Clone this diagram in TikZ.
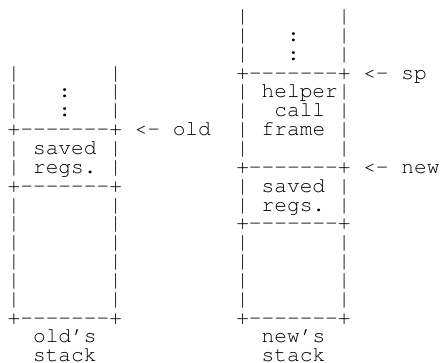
\documentclass[tikz,border=0pt]{standalone}
\usepackage{fontspec}
\setmonofont{TeX Gyre Cursor}
\newcommand{\asciifont}{\ttfamily\fontsize{21.17bp}{18.85bp}\selectfont\frenchspacing}
\tikzset{asciirow/.style={anchor=base west, inner sep=0pt, outer sep=0pt, font=\asciifont}}
\begin{document}
\begin{tikzpicture}[x=1bp,y=-1bp]
\useasboundingbox (0,0) rectangle (440,362);
\def\xo{7.65}
\def\pitch{18.85}
\def\yo{22.5}
\node[asciirow] (r0)  at (\xo,\yo+0*\pitch)  {~~~~~~~~~~~~~~~~~~|~~~~~~~|};
\node[asciirow] (r1)  at (\xo,\yo+1*\pitch)  {~~~~~~~~~~~~~~~~~~|~~~:~~~|};
\node[asciirow] (r2)  at (\xo,\yo+2*\pitch)  {~~~~~~~~~~~~~~~~~~|~~~:~~~|};
\node[asciirow] (r3)  at (\xo,\yo+3*\pitch)  {|~~~~~~~|~~~~~~~~~+-------+~<-~sp};
\node[asciirow] (r4)  at (\xo,\yo+4*\pitch)  {|~~~:~~~|~~~~~~~~~|~helper|};
\node[asciirow] (r5)  at (\xo,\yo+5*\pitch)  {|~~~:~~~|~~~~~~~~~|~~call~|};
\node[asciirow] (r6)  at (\xo,\yo+6*\pitch)  {+-------+~<-~old~~|~frame~|};
\node[asciirow] (r7)  at (\xo,\yo+7*\pitch)  {|~saved~|~~~~~~~~~|~~~~~~~|};
\node[asciirow] (r8)  at (\xo,\yo+8*\pitch)  {|~regs.~|~~~~~~~~~+-------+~<-~new};
\node[asciirow] (r9)  at (\xo,\yo+9*\pitch)  {+-------+~~~~~~~~~|~saved~|};
\node[asciirow] (r10) at (\xo,\yo+10*\pitch) {|~~~~~~~|~~~~~~~~~|~regs.~|};
\node[asciirow] (r11) at (\xo,\yo+11*\pitch) {|~~~~~~~|~~~~~~~~~+-------+};
\node[asciirow] (r12) at (\xo,\yo+12*\pitch) {|~~~~~~~|~~~~~~~~~|~~~~~~~|};
\node[asciirow] (r13) at (\xo,\yo+13*\pitch) {|~~~~~~~|~~~~~~~~~|~~~~~~~|};
\node[asciirow] (r14) at (\xo,\yo+14*\pitch) {|~~~~~~~|~~~~~~~~~|~~~~~~~|};
\node[asciirow] (r15) at (\xo,\yo+15*\pitch) {|~~~~~~~|~~~~~~~~~|~~~~~~~|};
\node[asciirow] (r16) at (\xo,\yo+16*\pitch) {+-------+~~~~~~~~~+-------+};
\node[asciirow] (r17) at (\xo,\yo+17*\pitch) {~~old’s~~~~~~~~~~~~~new’s};
\node[asciirow] (r18) at (\xo,\yo+18*\pitch) {~~stack~~~~~~~~~~~~~stack};
\end{tikzpicture}
\end{document}
